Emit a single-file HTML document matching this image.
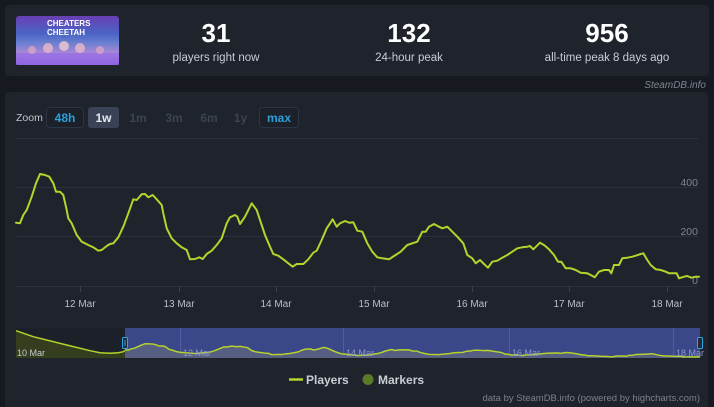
<!DOCTYPE html>
<html><head><meta charset="utf-8">
<style>
html,body{margin:0;padding:0;background:#161a20;width:714px;height:407px;overflow:hidden;font-family:"Liberation Sans",Arial,sans-serif;}
</style></head>
<body>
<svg width="714" height="407" viewBox="0 0 714 407" xmlns="http://www.w3.org/2000/svg" style="display:block;font-family:'Liberation Sans',Arial,sans-serif">
<defs>
<linearGradient id="gimg" x1="0" y1="0" x2="0" y2="1">
<stop offset="0" stop-color="#6a3fb4"/>
<stop offset="0.35" stop-color="#4a63c4"/>
<stop offset="0.55" stop-color="#6a7fd0"/>
<stop offset="0.8" stop-color="#b88ad8"/>
<stop offset="1" stop-color="#8d5ae0"/>
</linearGradient>
</defs>
<rect x="0" y="0" width="714" height="407" fill="#161a20"/>
<!-- header panel -->
<rect x="5" y="5" width="704" height="71" rx="4" fill="#1e232c"/>
<rect x="16" y="16" width="103" height="49" rx="3" fill="url(#gimg)"/>
<rect x="16" y="53" width="103" height="12" fill="#8f6ae6" opacity="0.7"/>
<circle cx="48" cy="48" r="5" fill="#e8b8c8" opacity="0.8"/>
<circle cx="64" cy="46" r="5" fill="#f0c8d0" opacity="0.8"/>
<circle cx="80" cy="48" r="5" fill="#e8b8c8" opacity="0.8"/>
<circle cx="32" cy="50" r="4" fill="#e0a8c0" opacity="0.7"/>
<circle cx="100" cy="50" r="4" fill="#e0a8c0" opacity="0.7"/>
<text x="47" y="26" font-size="8" font-weight="bold" fill="#ffffff">CHEATERS</text>
<text x="47" y="35" font-size="8" font-weight="bold" fill="#ffffff">CHEETAH</text>

<text x="216" y="42" text-anchor="middle" font-size="26" font-weight="bold" fill="#ffffff">31</text>
<text x="216" y="61" text-anchor="middle" font-size="11.5" fill="#c8ccd3">players right now</text>
<text x="409" y="42" text-anchor="middle" font-size="26" font-weight="bold" fill="#ffffff">132</text>
<text x="409" y="61" text-anchor="middle" font-size="11.5" fill="#c8ccd3">24-hour peak</text>
<text x="607" y="42" text-anchor="middle" font-size="26" font-weight="bold" fill="#ffffff">956</text>
<text x="607" y="61" text-anchor="middle" font-size="11.5" fill="#c8ccd3">all-time peak 8 days ago</text>

<text x="706" y="88" text-anchor="end" font-size="10" font-style="italic" fill="#7d8591">SteamDB.info</text>

<!-- chart panel -->
<rect x="5" y="92" width="703" height="330" rx="4" fill="#1e232c"/>

<!-- zoom buttons -->
<text x="16" y="121" font-size="10.5" fill="#c0c4cc">Zoom</text>
<rect x="46.5" y="107.5" width="37" height="20" rx="3" fill="#1b2029" stroke="#2c3545"/>
<text x="65" y="122" text-anchor="middle" font-size="12" font-weight="bold" fill="#2ba0da">48h</text>
<rect x="88" y="107" width="31" height="21" rx="3" fill="#3a4356"/>
<text x="103.5" y="122" text-anchor="middle" font-size="12" font-weight="bold" fill="#e6e9ee">1w</text>
<text x="138" y="122" text-anchor="middle" font-size="12" font-weight="bold" fill="#3b4453">1m</text>
<text x="174" y="122" text-anchor="middle" font-size="12" font-weight="bold" fill="#3b4453">3m</text>
<text x="209" y="122" text-anchor="middle" font-size="12" font-weight="bold" fill="#3b4453">6m</text>
<text x="240.5" y="122" text-anchor="middle" font-size="12" font-weight="bold" fill="#3b4453">1y</text>
<rect x="259.5" y="107.5" width="39" height="20" rx="3" fill="#1b2029" stroke="#2c3545"/>
<text x="279" y="122" text-anchor="middle" font-size="12" font-weight="bold" fill="#2ba0da">max</text>

<!-- grid -->
<g stroke="#2b313c" stroke-width="1">
<line x1="16" y1="138.5" x2="698" y2="138.5"/>
<line x1="16" y1="187.5" x2="698" y2="187.5"/>
<line x1="16" y1="236.5" x2="698" y2="236.5"/>
<line x1="16" y1="286.5" x2="698" y2="286.5"/>
</g>
<g stroke="#3a414d" stroke-width="1">
<line x1="80.5" y1="286" x2="80.5" y2="292"/>
<line x1="179.5" y1="286" x2="179.5" y2="292"/>
<line x1="276.5" y1="286" x2="276.5" y2="292"/>
<line x1="374.5" y1="286" x2="374.5" y2="292"/>
<line x1="472.5" y1="286" x2="472.5" y2="292"/>
<line x1="569.5" y1="286" x2="569.5" y2="292"/>
<line x1="667.5" y1="286" x2="667.5" y2="292"/>
</g>
<g font-size="10.5" fill="#7f8691" text-anchor="end">
<text x="698" y="186">400</text>
<text x="698" y="235">200</text>
<text x="698" y="284">0</text>
</g>
<g font-size="10" fill="#b9bfc8" text-anchor="middle">
<text x="80" y="307">12 Mar</text>
<text x="179" y="307">13 Mar</text>
<text x="276" y="307">14 Mar</text>
<text x="374" y="307">15 Mar</text>
<text x="472" y="307">16 Mar</text>
<text x="569" y="307">17 Mar</text>
<text x="667" y="307">18 Mar</text>
</g>

<!-- main series -->
<path fill="none" stroke="#b5d32b" stroke-width="2" stroke-linejoin="round" stroke-linecap="round" d="M16,222.7 L20,223.3 L23.3,215 L26.7,210 L31.7,196.7 L36,183.3 L40,174 L45,175 L49.3,176.7 L53.3,183.3 L56,191.7 L60,191.7 L63.3,195 L66.7,210 L68.3,218.3 L71.7,223.3 L76.7,235 L81.7,241.7 L88.3,245 L93.3,247.3 L98.3,250.7 L101.7,250 L106.7,246 L110,244 L113.3,243.3 L118.3,237.3 L123.3,226.7 L128.3,213.3 L133.3,199.3 L136.7,200 L141.7,194.3 L145,194 L148.3,197.3 L152.7,195 L156.7,199.3 L161.7,205 L163.3,213.3 L166.7,228.3 L171.7,238.3 L176.7,243.3 L181.7,247.3 L186.7,250 L190,259.3 L195,259 L199.3,257.3 L202.7,259 L206.7,254 L211.7,250.7 L216.7,245 L221.7,238.3 L226.7,223.3 L230,217.3 L235,215 L237.3,216.7 L240,224 L245,216.7 L251.7,203.3 L256.7,210 L260,220 L265,235 L270,246.7 L273.3,254 L278.3,255.7 L283.3,259.3 L288.3,263.3 L292.7,266.7 L296.7,264 L303.3,264 L308.3,259.3 L313.3,252.7 L316.7,250.7 L321.7,240 L326.7,228.3 L332.7,219.3 L336.7,226.7 L340,223.3 L345,221 L349.3,222.7 L353.3,222.3 L357.3,230.7 L362.3,231.7 L367.3,243.3 L372.3,251.7 L377.3,257.3 L382.3,258.3 L389,259.3 L394,256 L400.7,251.7 L407.3,245 L412.3,243.3 L417.3,241.7 L422.3,231.7 L425.7,231.7 L429,226.7 L434,224 L439,226.7 L442.3,228.3 L447.3,226.7 L452.3,231.7 L457.3,236.7 L463.3,243.3 L467.3,255 L472.3,258.3 L475.7,263.3 L480,260 L484,264 L488,267.7 L492.3,261.7 L497.3,260.7 L502.3,257.7 L507.3,255 L512.3,251.7 L517.3,248.3 L522.3,247.3 L527.3,246.7 L530,246 L533.3,249.3 L540,242.7 L544,245 L549,249.3 L554,255 L558,261.7 L561.3,261.7 L565.7,268.3 L570.7,268.3 L575.7,270 L580.7,272.7 L587.3,273.3 L590.7,275 L594.7,277.3 L599,271.7 L604,270 L609,270 L611.3,273.3 L614,265 L619,265 L622.3,258.3 L627.3,257.7 L632.3,256.7 L635.7,255.7 L640.7,254 L643.3,253.3 L647.3,260 L650.7,265 L655.7,269.3 L660.7,270 L665.7,271.7 L669,273.3 L674,273.3 L676.7,273.3 L679,278.3 L684,276.7 L687.3,276 L691.3,277.7 L695.7,276.7 L699,276.7"/>

<!-- navigator -->
<rect x="16" y="328" width="109" height="30" fill="#1b2029"/>
<path d="M16,330.7 L33.3,336.7 L66.7,345 L90,350.7 L100,352.7 L110,353.3 L118.3,352.7 L123.3,351.7 L125,350.7 L125,358 L16,358 Z" fill="#343d1e"/>
<path d="M16,330.7 L33.3,336.7 L66.7,345 L90,350.7 L100,352.7 L110,353.3 L118.3,352.7 L123.3,351.7 L125,350.7" fill="none" stroke="#b5d32b" stroke-width="1.5"/>
<rect x="125" y="328" width="575" height="30" fill="#3a4788"/>
<g stroke="#4f5ca0" stroke-width="1">
<line x1="180.5" y1="328" x2="180.5" y2="358"/>
<line x1="343.5" y1="328" x2="343.5" y2="358"/>
<line x1="509.5" y1="328" x2="509.5" y2="358"/>
<line x1="673.5" y1="328" x2="673.5" y2="358"/>
</g>
<g transform="matrix(0.842 0 0 0.12755 111.53 321.52)">
<path fill="#565e82" d="M16,222.7 L20,223.3 L23.3,215 L26.7,210 L31.7,196.7 L36,183.3 L40,174 L45,175 L49.3,176.7 L53.3,183.3 L56,191.7 L60,191.7 L63.3,195 L66.7,210 L68.3,218.3 L71.7,223.3 L76.7,235 L81.7,241.7 L88.3,245 L93.3,247.3 L98.3,250.7 L101.7,250 L106.7,246 L110,244 L113.3,243.3 L118.3,237.3 L123.3,226.7 L128.3,213.3 L133.3,199.3 L136.7,200 L141.7,194.3 L145,194 L148.3,197.3 L152.7,195 L156.7,199.3 L161.7,205 L163.3,213.3 L166.7,228.3 L171.7,238.3 L176.7,243.3 L181.7,247.3 L186.7,250 L190,259.3 L195,259 L199.3,257.3 L202.7,259 L206.7,254 L211.7,250.7 L216.7,245 L221.7,238.3 L226.7,223.3 L230,217.3 L235,215 L237.3,216.7 L240,224 L245,216.7 L251.7,203.3 L256.7,210 L260,220 L265,235 L270,246.7 L273.3,254 L278.3,255.7 L283.3,259.3 L288.3,263.3 L292.7,266.7 L296.7,264 L303.3,264 L308.3,259.3 L313.3,252.7 L316.7,250.7 L321.7,240 L326.7,228.3 L332.7,219.3 L336.7,226.7 L340,223.3 L345,221 L349.3,222.7 L353.3,222.3 L357.3,230.7 L362.3,231.7 L367.3,243.3 L372.3,251.7 L377.3,257.3 L382.3,258.3 L389,259.3 L394,256 L400.7,251.7 L407.3,245 L412.3,243.3 L417.3,241.7 L422.3,231.7 L425.7,231.7 L429,226.7 L434,224 L439,226.7 L442.3,228.3 L447.3,226.7 L452.3,231.7 L457.3,236.7 L463.3,243.3 L467.3,255 L472.3,258.3 L475.7,263.3 L480,260 L484,264 L488,267.7 L492.3,261.7 L497.3,260.7 L502.3,257.7 L507.3,255 L512.3,251.7 L517.3,248.3 L522.3,247.3 L527.3,246.7 L530,246 L533.3,249.3 L540,242.7 L544,245 L549,249.3 L554,255 L558,261.7 L561.3,261.7 L565.7,268.3 L570.7,268.3 L575.7,270 L580.7,272.7 L587.3,273.3 L590.7,275 L594.7,277.3 L599,271.7 L604,270 L609,270 L611.3,273.3 L614,265 L619,265 L622.3,258.3 L627.3,257.7 L632.3,256.7 L635.7,255.7 L640.7,254 L643.3,253.3 L647.3,260 L650.7,265 L655.7,269.3 L660.7,270 L665.7,271.7 L669,273.3 L674,273.3 L676.7,273.3 L679,278.3 L684,276.7 L687.3,276 L691.3,277.7 L695.7,276.7 L699,276.7 L699,286 L16,286 Z"/>
<path fill="none" stroke="#b5d32b" stroke-width="1.5" vector-effect="non-scaling-stroke" d="M16,222.7 L20,223.3 L23.3,215 L26.7,210 L31.7,196.7 L36,183.3 L40,174 L45,175 L49.3,176.7 L53.3,183.3 L56,191.7 L60,191.7 L63.3,195 L66.7,210 L68.3,218.3 L71.7,223.3 L76.7,235 L81.7,241.7 L88.3,245 L93.3,247.3 L98.3,250.7 L101.7,250 L106.7,246 L110,244 L113.3,243.3 L118.3,237.3 L123.3,226.7 L128.3,213.3 L133.3,199.3 L136.7,200 L141.7,194.3 L145,194 L148.3,197.3 L152.7,195 L156.7,199.3 L161.7,205 L163.3,213.3 L166.7,228.3 L171.7,238.3 L176.7,243.3 L181.7,247.3 L186.7,250 L190,259.3 L195,259 L199.3,257.3 L202.7,259 L206.7,254 L211.7,250.7 L216.7,245 L221.7,238.3 L226.7,223.3 L230,217.3 L235,215 L237.3,216.7 L240,224 L245,216.7 L251.7,203.3 L256.7,210 L260,220 L265,235 L270,246.7 L273.3,254 L278.3,255.7 L283.3,259.3 L288.3,263.3 L292.7,266.7 L296.7,264 L303.3,264 L308.3,259.3 L313.3,252.7 L316.7,250.7 L321.7,240 L326.7,228.3 L332.7,219.3 L336.7,226.7 L340,223.3 L345,221 L349.3,222.7 L353.3,222.3 L357.3,230.7 L362.3,231.7 L367.3,243.3 L372.3,251.7 L377.3,257.3 L382.3,258.3 L389,259.3 L394,256 L400.7,251.7 L407.3,245 L412.3,243.3 L417.3,241.7 L422.3,231.7 L425.7,231.7 L429,226.7 L434,224 L439,226.7 L442.3,228.3 L447.3,226.7 L452.3,231.7 L457.3,236.7 L463.3,243.3 L467.3,255 L472.3,258.3 L475.7,263.3 L480,260 L484,264 L488,267.7 L492.3,261.7 L497.3,260.7 L502.3,257.7 L507.3,255 L512.3,251.7 L517.3,248.3 L522.3,247.3 L527.3,246.7 L530,246 L533.3,249.3 L540,242.7 L544,245 L549,249.3 L554,255 L558,261.7 L561.3,261.7 L565.7,268.3 L570.7,268.3 L575.7,270 L580.7,272.7 L587.3,273.3 L590.7,275 L594.7,277.3 L599,271.7 L604,270 L609,270 L611.3,273.3 L614,265 L619,265 L622.3,258.3 L627.3,257.7 L632.3,256.7 L635.7,255.7 L640.7,254 L643.3,253.3 L647.3,260 L650.7,265 L655.7,269.3 L660.7,270 L665.7,271.7 L669,273.3 L674,273.3 L676.7,273.3 L679,278.3 L684,276.7 L687.3,276 L691.3,277.7 L695.7,276.7 L699,276.7"/>
</g>
<g font-size="9">
<text x="17" y="356" fill="#c8ccd2">10 Mar</text>
<text x="183" y="356" fill="#8d97c8">12 Mar</text>
<text x="346" y="356" fill="#8d97c8">14 Mar</text>
<text x="512" y="356" fill="#8d97c8">16 Mar</text>
<text x="676" y="356" fill="#8d97c8">18 Mar</text>
</g>
<rect x="122.5" y="337.5" width="5" height="11" rx="1" fill="#232a36" stroke="#2ea4e0"/>
<line x1="125" y1="340" x2="125" y2="346" stroke="#2ea4e0" stroke-width="1"/>
<rect x="697.5" y="337.5" width="5" height="11" rx="1" fill="#232a36" stroke="#2ea4e0"/>

<!-- legend -->
<line x1="289" y1="379.5" x2="303" y2="379.5" stroke="#b5d32b" stroke-width="2.5"/>
<text x="306" y="384" font-size="12" font-weight="bold" fill="#c9cdd4">Players</text>
<circle cx="368" cy="379.5" r="5.5" fill="#5a7a28"/>
<text x="378" y="384" font-size="12" font-weight="bold" fill="#c9cdd4">Markers</text>

<text x="700" y="401" text-anchor="end" font-size="9.5" fill="#7b828d">data by SteamDB.info (powered by highcharts.com)</text>
</svg>
</body></html>
